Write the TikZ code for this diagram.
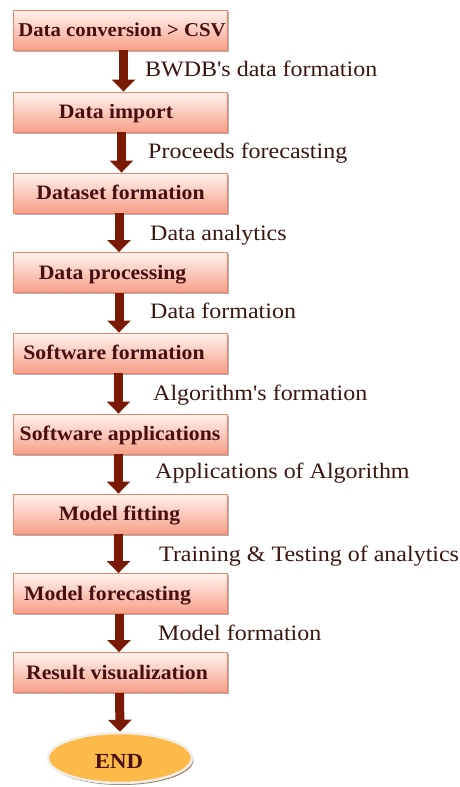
\documentclass[tikz,border=0pt]{standalone}
\usepackage{fontspec}
\newfontfamily\labfont{Liberation Serif}[FakeStretch=1.09, Ligatures=TeXOff]
\newfontfamily\boxfont{Liberation Serif}[FakeStretch=1.06, Ligatures=TeXOff]
\usetikzlibrary{shapes.geometric,shadows,arrows.meta}
\definecolor{arrowc}{HTML}{7A1A04}
\definecolor{boxdraw}{HTML}{EE8468}
\definecolor{boxtop}{HTML}{FFF3EF}
\definecolor{boxbot}{HTML}{F6A088}
\definecolor{boxtext}{HTML}{4A0E0E}
\definecolor{labtext}{HTML}{3A1610}
\definecolor{endfill}{HTML}{FDBA48}
\definecolor{enddraw}{HTML}{F1EEE8}
\begin{document}
\begin{tikzpicture}[x=1pt,y=-1pt,
  box/.style={rectangle, minimum width=214pt, minimum height=40pt, draw=boxdraw, line width=0.9pt,
    top color=boxtop, bottom color=boxbot,
    drop shadow={shadow xshift=1.5pt, shadow yshift=-1.8pt, opacity=0.55, fill=black!55}},
  btxt/.style={anchor=base, inner sep=0pt, text=boxtext, font=\boxfont\bfseries\fontsize{20.5}{24}\selectfont},
  lab/.style={anchor=base west, inner sep=0pt, text=labtext, font=\labfont\fontsize{22}{26}\selectfont},
  arr/.style={draw=arrowc, line width=9pt, -{Triangle[width=23pt,length=12pt]}},
  endnode/.style={ellipse, minimum width=144pt, minimum height=50pt, fill=endfill, draw=enddraw, line width=2.5pt,
    drop shadow={shadow xshift=1.5pt, shadow yshift=-2pt, opacity=0.7, fill=brown!60!black}}]
\useasboundingbox[fill=white] (0,0) rectangle (460,787);

\node[box] (b1) at (120.5,30) {};
\node[box] (b2) at (120.5,112) {};
\node[box] (b3) at (120.5,193) {};
\node[box] (b4) at (120.5,272.5) {};
\node[box] (b5) at (120.5,353) {};
\node[box] (b6) at (120.5,434) {};
\node[box] (b7) at (120.5,514) {};
\node[box] (b8) at (120.5,593.5) {};
\node[box] (b9) at (120.5,672.5) {};
\node[endnode] (e) at (120,758) {};

\node[btxt, font=\boxfont\bfseries\fontsize{19.6}{24}\selectfont] (t1) at (122,36.5) {Data conversion > CSV};
\node[btxt] (t2) at (116,118.5) {Data import};
\node[btxt] (t3) at (120.5,199.5) {Dataset formation};
\node[btxt] (t4) at (112.5,279) {Data processing};
\node[btxt] (t5) at (114,359.5) {Software formation};
\node[btxt] (t6) at (120,440.5) {Software applications};
\node[btxt] (t7) at (119.5,520.5) {Model fitting};
\node[btxt] (t8) at (107.5,600) {Model forecasting};
\node[btxt] (t9) at (117,679) {Result visualization};
\node[btxt, font=\boxfont\bfseries\fontsize{21.5}{24}\selectfont] (te) at (119,768) {END};

\draw[arr] ([xshift=3pt]b1.south) -- ([xshift=3pt]b2.north);
\draw[arr] ([xshift=1pt]b2.south) -- ([xshift=1pt]b3.north);
\draw[arr] ([xshift=-1.5pt]b3.south) -- ([xshift=-1.5pt]b4.north);
\draw[arr] ([xshift=-1.5pt]b4.south) -- ([xshift=-1.5pt]b5.north);
\draw[arr] ([xshift=-2pt]b5.south) -- ([xshift=-2pt]b6.north);
\draw[arr] ([xshift=-2pt]b6.south) -- ([xshift=-2pt]b7.north);
\draw[arr] ([xshift=-2pt]b7.south) -- ([xshift=-2pt]b8.north);
\draw[arr] ([xshift=-1.5pt]b8.south) -- ([xshift=-1.5pt]b9.north);
\draw[arr] ([xshift=-1pt]b9.south) -- (e.north);

\node[lab] (l1) at (145,76) {BWDB's data formation};
\node[lab] (l2) at (148,158) {Proceeds forecasting};
\node[lab] (l3) at (150,240) {Data analytics};
\node[lab] (l4) at (150,318) {Data formation};
\node[lab] (l5) at (153,400) {Algorithm's formation};
\node[lab] (l6) at (155,478) {Applications of Algorithm};
\node[lab] (l7) at (159,561) {Training \& Testing of analytics};
\node[lab] (l8) at (158,640) {Model formation};
\end{tikzpicture}
\end{document}
